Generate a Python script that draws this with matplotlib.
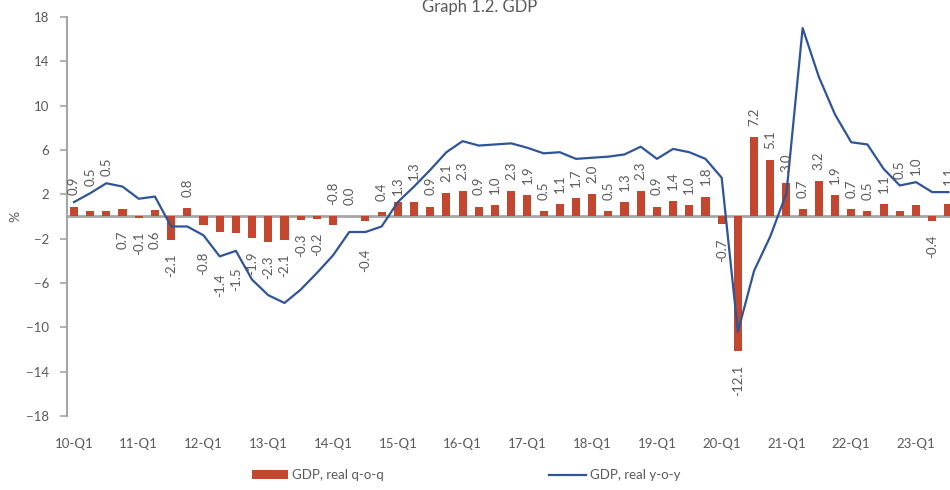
import numpy as np
import matplotlib
matplotlib.use("Agg")
import matplotlib.pyplot as plt
from matplotlib.transforms import offset_copy

plt.rcParams['font.family'] = ['Lato', 'DejaVu Sans']

years = ["10", "11", "12", "13", "14", "15", "16", "17", "18", "19", "20", "21", "22", "23"]
quarters = [y + "-Q" + str(q) for y in years for q in range(1, 5)][:55]

qoq = [0.9, 0.5, 0.5, 0.7, -0.1, 0.6, -2.1, 0.8, -0.8, -1.4, -1.5, -1.9, -2.3, -2.1, -0.3, -0.2,
       -0.8, 0.0, -0.4, 0.4, 1.3, 1.3, 0.9, 2.1, 2.3, 0.9, 1.0, 2.3, 1.9, 0.5, 1.1, 1.7,
       2.0, 0.5, 1.3, 2.3, 0.9, 1.4, 1.0, 1.8, -0.7, -12.1, 7.2, 5.1, 3.0, 0.7, 3.2, 1.9,
       0.7, 0.5, 1.1, 0.5, 1.0, -0.4, 1.1]

yoy = [1.3, 2.1, 3.0, 2.7, 1.6, 1.8, -0.9, -0.9, -1.7, -3.6, -3.1, -5.7, -7.1, -7.8, -6.6, -5.1,
       -3.5, -1.4, -1.4, -0.9, 1.3, 2.7, 4.2, 5.8, 6.8, 6.4, 6.5, 6.6, 6.2, 5.7, 5.8, 5.2,
       5.3, 5.4, 5.6, 6.3, 5.2, 6.1, 5.8, 5.2, 3.5, -10.4, -4.9, -1.8, 2.1, 17.0, 12.6, 9.2,
       6.7, 6.5, 4.3, 2.8, 3.1, 2.2, 2.2]

# where each data label sits: u = above line/bar, a = above bar, d = below bar, D = below line
label_side = list("uuudddda" "DDDddddd" "aaDauuaa" "aaaaaaaa" "aaaaaaaa" "ddaaaaaa" "aaauudu")

bar_color = "#C3462F"
line_color = "#2F5597"
text_color = "#595959"
axis_color = "#A6A6A6"

fig = plt.figure(figsize=(9.5, 4.9), dpi=100)
ax = fig.add_axes([67 / 950, 74 / 490, 1 - 67 / 950, 399 / 490])

x = np.arange(len(quarters))
bars = ax.bar(x, qoq, width=0.5, color=bar_color, label="GDP, real q-o-q", zorder=2)
line, = ax.plot(x, yoy, color=line_color, lw=1.6, label="GDP, real y-o-y", zorder=3)
ax.axhline(0, color=axis_color, lw=2, zorder=1)

for i in range(len(x)):
    s = label_side[i]
    if s == "u":
        y0, dy, va = max(qoq[i], yoy[i], 0), 5, "bottom"
    elif s == "a":
        y0, dy, va = max(qoq[i], 0), 8, "bottom"
    elif s == "d":
        y0, dy, va = min(qoq[i], 0), -10, "top"
    else:
        y0, dy, va = min(qoq[i], yoy[i]), -12, "top"
    tr = offset_copy(ax.transData, fig=fig, x=0, y=dy, units="points")
    ax.text(x[i], y0, "%.1f" % qoq[i], transform=tr, rotation=90, ha="center", va=va,
            fontsize=9.5, color=text_color)

ax.set_xlim(-0.43, 54.1)
ax.set_ylim(-18, 18)
ax.set_yticks(np.arange(-18, 19, 4))
ax.set_xticks(x[::4])
ax.set_xticklabels(quarters[::4])
ax.tick_params(axis="x", length=0, pad=16, labelsize=9.5, labelcolor=text_color)
ax.tick_params(axis="y", length=5, width=1.2, color=axis_color, pad=8, labelsize=9.5,
               labelcolor=text_color)
for sp in ["top", "right", "bottom"]:
    ax.spines[sp].set_visible(False)
ax.spines["left"].set_color(axis_color)
ax.spines["left"].set_linewidth(1.5)
ax.set_ylabel("%", color=text_color, fontsize=10, labelpad=3)

fig.text(480 / 950, 1 - 12 / 490, "Graph 1.2. GDP", ha="center", va="baseline",
         fontsize=12, color=text_color)

fig.legend([bars, line], ["GDP, real q-o-q", "GDP, real y-o-y"], loc="center",
           bbox_to_anchor=(466 / 950, 1 - 475 / 490), ncol=2, frameon=False,
           fontsize=9.5, labelcolor=text_color, handlelength=2.8, handleheight=0.6,
           handletextpad=0.3, columnspacing=12.5)

fig.savefig("out.png", dpi=100)
